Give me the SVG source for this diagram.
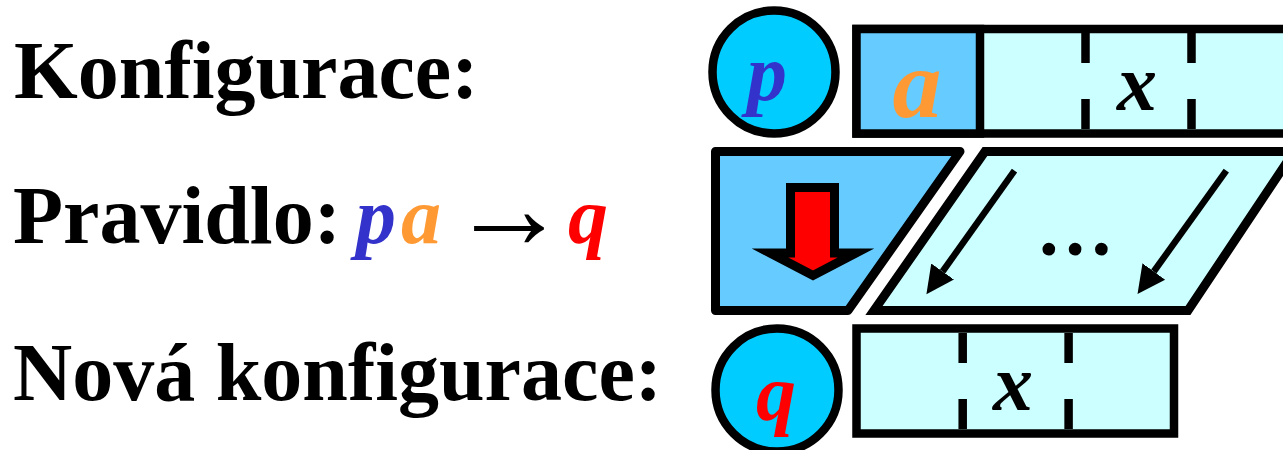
<svg xmlns="http://www.w3.org/2000/svg" width="1283" height="450" viewBox="0 0 1283 450">
<defs>
<style>
.lbl{font-family:"Liberation Serif","Times New Roman",serif;font-weight:700;font-size:82px;fill:#000}
.sym{font-family:"Liberation Serif","Times New Roman",serif;font-weight:700;font-style:italic;font-size:80px}
.blk{stroke:#000;stroke-width:8.5}
.tape{fill:#CCFFFF}
.cell{fill:#66CCFF}
.state{fill:#00CCFF}
.tick{stroke:#000;stroke-width:8.5;fill:none}
.arr{stroke:#000;stroke-width:6.5;fill:none}
</style>
<marker id="ah" markerUnits="userSpaceOnUse" markerWidth="30" markerHeight="30" viewBox="0 -14 28 28" refX="0" refY="0" orient="auto">
<path d="M0,-13 L26,0 L0,13 Z" fill="#000"/>
</marker>
</defs>
<rect width="1283" height="450" fill="#fff"/>

<g id="labels">
<text class="lbl" x="14" y="98">Konfigurace:</text>
<text class="lbl" x="13" y="243">Pravidlo:</text>
<text class="sym" x="356" y="243" fill="#3333CC">p</text>
<text class="sym" x="401" y="243" fill="#FF9933">a</text>
<text x="450" y="248" style="font-family:'Liberation Serif','Times New Roman',serif;font-size:118px" fill="#000">→</text>
<text class="sym" x="568" y="243" fill="#FF0000">q</text>
<text class="lbl" x="13" y="400">Nová konfigurace:</text>
</g>

<g id="state-p">
<circle class="state blk" cx="774" cy="72" r="61.5"/>
<text class="sym" x="767" y="100" text-anchor="middle" fill="#3333CC">p</text>
</g>

<g id="tape-top">
<rect class="tape blk" x="856.5" y="29" width="460" height="104.5"/>
<rect class="cell blk" x="856.5" y="29" width="123.5" height="104.5"/>
<path class="tick" d="M1085.5,33 V63 M1085.5,99 V129 M1191.5,33 V63 M1191.5,99 V129"/>
<text class="sym" x="917" y="117" text-anchor="middle" fill="#FF9933" style="font-size:98px">a</text>
<text class="sym" x="1137" y="110" text-anchor="middle" fill="#000">x</text>
</g>

<g id="rule-head">
<path class="cell" d="M715.5,151.5 H960 L848,310.5 H715.5 Z" stroke="#000" stroke-width="9" stroke-linejoin="round"/>
<path d="M790.5,187.5 H834.5 V253 H856 L813,275.5 L770,253 H790.5 Z" fill="#FF0000" stroke="#000" stroke-width="9" stroke-miterlimit="10"/>
</g>

<g id="rule-tape">
<path class="tape" d="M985,151.5 H1294 L1188,310.5 H874 Z" stroke="#000" stroke-width="9" stroke-linejoin="miter"/>
<text x="1075" y="255" text-anchor="middle" style="font-family:'Liberation Serif','Times New Roman',serif;font-weight:700;font-size:78px" fill="#000">…</text>
</g>

<g id="connectors">
<line class="arr" x1="1014.5" y1="170.7" x2="942.6" y2="271.5" marker-end="url(#ah)"/>
<line class="arr" x1="1226.3" y1="170.7" x2="1153.8" y2="271.5" marker-end="url(#ah)"/>
</g>

<g id="state-q">
<circle class="state blk" cx="777" cy="390" r="61.5"/>
<text class="sym" x="776" y="420" text-anchor="middle" fill="#FF0000">q</text>
</g>

<g id="tape-bottom">
<rect class="tape blk" x="856.5" y="328.5" width="317.5" height="105"/>
<path class="tick" d="M962.7,333 V363 M962.7,399 V429 M1068.6,333 V363 M1068.6,399 V429"/>
<text class="sym" x="1013" y="410" text-anchor="middle" fill="#000">x</text>
</g>
</svg>
